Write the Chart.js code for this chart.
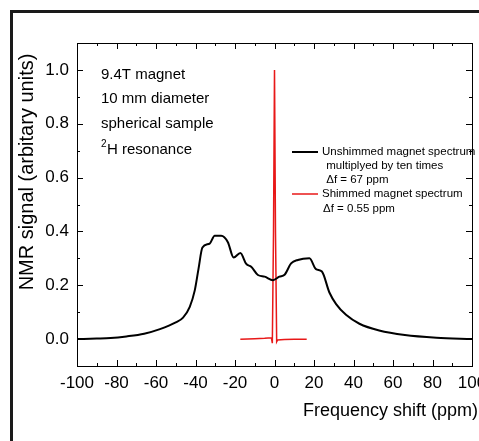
<!DOCTYPE html>
<html>
<head>
<meta charset="utf-8">
<script src="https://cdn.jsdelivr.net/npm/chart.js@4.4.1/dist/chart.umd.min.js"></script>
<style>
  body { margin: 0; background: #fff; }
  canvas { display: block; }
</style>
</head>
<body>
<canvas id="nmr-chart" width="479" height="441"></canvas>
<script>
// Unshimmed magnet spectrum (x10)
const unshimmedPpm = [-100, -90, -83, -75, -66, -58, -50, -46.3, -42.9, -40.4, -38.5, -36.5, -32.8, -30.3, -27, -23.6, -20.7, -17.3, -14.3, -11.8, -8.4, -5, -0.8, 2.5, 5.1, 8.4, 11.8, 17.7, 21, 24, 27.8, 31.2, 36.2, 43, 53, 66, 82, 100];
const unshimmedSignal = [0.0, 0.002, 0.004, 0.01, 0.02, 0.037, 0.062, 0.08, 0.12, 0.18, 0.26, 0.34, 0.355, 0.384, 0.384, 0.36, 0.303, 0.32, 0.279, 0.269, 0.238, 0.232, 0.219, 0.232, 0.239, 0.281, 0.294, 0.30, 0.26, 0.251, 0.173, 0.13, 0.09, 0.057, 0.032, 0.015, 0.005, 0.0];

// Shimmed magnet spectrum
const shimmedPpm = [-17.3, -10, -5, -1.6, -1.1, -0.5, 0, 0.5, 1.1, 1.6, 5, 10, 16.3];
const shimmedSignal = [-0.001, 0.001, 0.003, 0.005, -0.015, 0.4, 1.0, 0.4, -0.01, -0.003, -0.002, -0.001, -0.001];

const xTicks = [-100, -80, -60, -40, -20, 0, 20, 40, 60, 80, 100];
const yTicks = [0.0, 0.2, 0.4, 0.6, 0.8, 1.0];

const seriesLabels = [
    ['Unshimmed magnet spectrum', ' multiplyed by ten times', ' \u0394f = 67 ppm'],
    ['Shimmed magnet spectrum', '\u0394f = 0.55 ppm']
];
const noteLines = ['9.4T magnet', '10 mm diameter', 'spherical sample', 'H resonance'];

const FONT = 'Arial, "Liberation Sans", sans-serif';

function toPoints(xs, ys) {
    return xs.map((x, i) => ({ x: x, y: ys[i] }));
}

// Frame, inward ticks, legend, notes and axis titles
const decorations = {
    id: 'decorations',
    afterDraw(chart) {
        const ctx = chart.ctx;
        const a = chart.chartArea;
        const x = chart.scales.x;
        const y = chart.scales.y;
        ctx.save();

        // outer figure frame (only left and top are visible)
        ctx.strokeStyle = '#1a1a1a';
        ctx.lineWidth = 3;
        ctx.beginPath();
        ctx.moveTo(11.5, 441);
        ctx.lineTo(11.5, 11.5);
        ctx.lineTo(479, 11.5);
        ctx.stroke();

        // plot box
        ctx.strokeStyle = '#000';
        ctx.lineWidth = 1;
        ctx.strokeRect(a.left + 0.5, a.top + 0.5, a.right - a.left, a.bottom - a.top);

        // ticks on all sides, pointing inward
        ctx.beginPath();
        for (let v = -100; v <= 100; v += 10) {
            const px = Math.round(x.getPixelForValue(v)) + 0.5;
            const len = (v % 20 === 0) ? 6 : 3;
            ctx.moveTo(px, a.bottom); ctx.lineTo(px, a.bottom - len);
            ctx.moveTo(px, a.top); ctx.lineTo(px, a.top + len);
        }
        for (let i = -1; i <= 11; i++) {
            const v = i / 10;
            const py = Math.round(y.getPixelForValue(v)) + 0.5;
            const len = (i % 2 === 0) ? 6 : 3;
            ctx.moveTo(a.left, py); ctx.lineTo(a.left + len, py);
            ctx.moveTo(a.right, py); ctx.lineTo(a.right - len, py);
        }
        ctx.stroke();

        // notes in the upper left
        ctx.fillStyle = '#000';
        ctx.textBaseline = 'middle';
        ctx.textAlign = 'left';
        ctx.font = '15px ' + FONT;
        const noteY = [75, 99, 124, 150];
        noteLines.forEach((t, i) => {
            let tx = 101;
            if (i === 3) {
                ctx.font = '10px ' + FONT;
                ctx.fillText('2', tx, noteY[i] - 6);
                tx += 6;
                ctx.font = '15px ' + FONT;
            }
            ctx.fillText(t, tx, noteY[i]);
        });

        // legend
        const ds = chart.data.datasets;
        const legendRows = [[152, 166, 180], [194, 209]];
        ctx.font = '11.5px ' + FONT;
        ds.forEach((d, i) => {
            ctx.strokeStyle = d.borderColor;
            ctx.lineWidth = d.borderWidth;
            ctx.beginPath();
            ctx.moveTo(292, legendRows[i][0]);
            ctx.lineTo(318, legendRows[i][0]);
            ctx.stroke();
            seriesLabels[i].forEach((t, j) => {
                ctx.fillText(t, j === 0 ? 322 : 323, legendRows[i][j]);
            });
        });

        // axis titles
        ctx.font = '18px ' + FONT;
        ctx.textAlign = 'right';
        ctx.fillText('Frequency shift (ppm)', 478, 411);
        ctx.font = '20px ' + FONT;
        ctx.translate(27, 172);
        ctx.rotate(-Math.PI / 2);
        ctx.textAlign = 'center';
        ctx.fillText('NMR signal (arbitary units)', 0, 0);

        ctx.restore();
    }
};

const ctx = document.getElementById('nmr-chart').getContext('2d');
const myChart = new Chart(ctx, {
    type: 'line',
    data: {
        datasets: [
            {
                label: 'Unshimmed magnet spectrum',
                data: toPoints(unshimmedPpm, unshimmedSignal),
                borderColor: '#000',
                borderWidth: 2,
                pointRadius: 0,
                cubicInterpolationMode: 'monotone'
            },
            {
                label: 'Shimmed magnet spectrum',
                data: toPoints(shimmedPpm, shimmedSignal),
                borderColor: '#e81818',
                borderWidth: 1.5,
                pointRadius: 0,
                tension: 0
            }
        ]
    },
    options: {
        responsive: false,
        animation: false,
        layout: { padding: { top: 43, right: 7, left: 0, bottom: 0 } },
        plugins: {
            legend: { display: false },
            tooltip: { enabled: false }
        },
        scales: {
            x: {
                type: 'linear',
                min: -100,
                max: 100,
                afterBuildTicks: s => { s.ticks = xTicks.map(v => ({ value: v })); },
                afterFit: s => {
                    s.height = 75;
                    s.paddingLeft = 0;
                    s.paddingRight = 0;
                },
                grid: { display: false, drawTicks: false },
                border: { display: false },
                ticks: {
                    color: '#000',
                    font: { family: FONT, size: 17 },
                    padding: 7,
                    maxRotation: 0,
                    autoSkip: false
                }
            },
            y: {
                type: 'linear',
                min: -0.1,
                max: 1.1,
                afterBuildTicks: s => { s.ticks = yTicks.map(v => ({ value: v })); },
                afterFit: s => {
                    s.width = 77;
                    s.paddingTop = 0;
                    s.paddingBottom = 0;
                },
                grid: { display: false, drawTicks: false },
                border: { display: false },
                ticks: {
                    color: '#000',
                    font: { family: FONT, size: 17 },
                    padding: 8,
                    callback: v => v.toFixed(1)
                }
            }
        }
    },
    plugins: [decorations]
});
</script>
</body>
</html>
